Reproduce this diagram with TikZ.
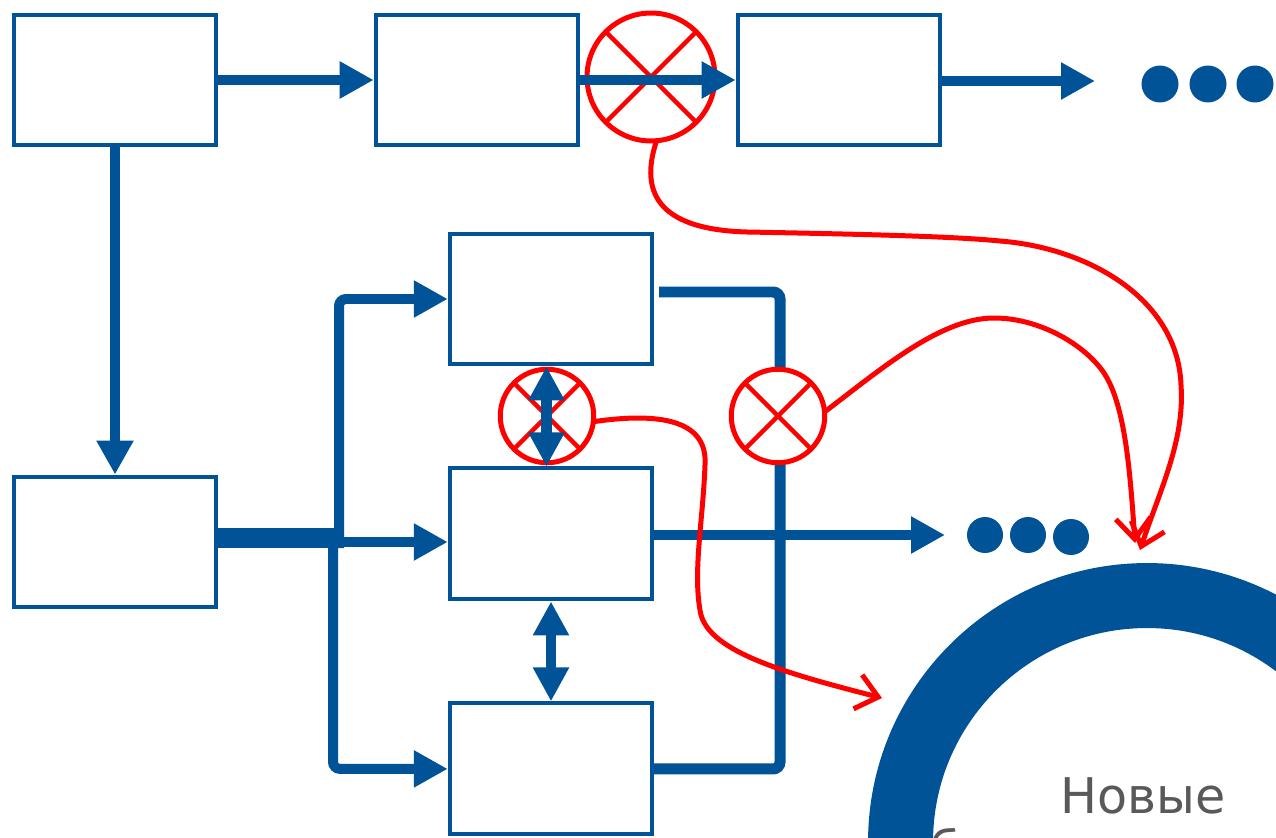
\documentclass[tikz,border=0pt]{standalone}
\usepackage{fontspec}
\newfontfamily\lblfont{DejaVu Sans}
\usetikzlibrary{arrows.meta}
\definecolor{flowblue}{RGB}{0,83,150}
\definecolor{labelgray}{RGB}{89,89,89}

\begin{document}
\begin{tikzpicture}[x=0.02cm,y=0.02cm,node distance=7.24cm,
    flow/.style={draw=flowblue,line width=0.2cm,-{Triangle[length=0.68cm,width=0.7cm]}},
    dflow/.style={draw=flowblue,line width=0.22cm,
      {Triangle[length=0.68cm,width=0.68cm]}-{Triangle[length=0.68cm,width=0.68cm]}},
    bus/.style={draw=flowblue,line width=0.22cm,rounded corners=4pt},
    link/.style={draw=red,line width=0.1cm,line cap=round,
      -{Straight Barb[length=0.42cm,width=0.7cm]}}]
    \tikzset{block/.style={draw=flowblue,line width=0.08cm,fill=white,
      minimum width=4.05cm,minimum height=2.62cm,inner sep=0pt},
      cross/.style={circle,draw=red,line width=0.1cm,fill=white,
      inner sep=0pt,outer sep=0pt},
      dot/.style={circle,fill=flowblue,inner sep=0pt,minimum size=0.74cm},
      lbl/.style={text=labelgray,font=\lblfont\fontsize{28}{34}\selectfont,inner sep=0pt}}
    \useasboundingbox (0,0) rectangle (1276,-838);

    % ring with the label
    \node[circle,draw=flowblue,line width=1.3cm,minimum size=9.86cm] (ring) at (1147,-842) {};
    \node[lbl,anchor=base] (t1) at (1143,-813) {Новые};
    \node[lbl,anchor=base west] (t2) at (930,-866) {бизнес-процессы};

    % blocks
    \node[block] (b1) at (115,-80) {};
    \node[block] (b2) [right of=b1] {};
    \node[block] (b3) [right of=b2] {};
    \node[block] (b4) at (115,-542) {};
    \node[block] (b5) at (551,-299) {};
    \node[block,node distance=4.7cm] (b6) [below of=b5] {};
    \node[block,node distance=4.7cm] (b7) [below of=b6] {};

    % right bus
    \coordinate (r1) at (659,-292);
    \coordinate (r2) at (780,-769);
    \draw[bus] (r1) -| (r2) -- (b7.east);

    % crossed circles
    \node[cross,minimum size=2.56cm] (c1) at (651,-77) {};
    \node[cross,minimum size=1.87cm] (c2) at (547,-416) {};
    \node[cross,minimum size=1.87cm] (c3) at (778,-416) {};
    \foreach \c in {c1,c2,c3}
      \draw[draw=red,line width=0.09cm] (\c.north west) -- (\c.south east)
        (\c.north east) -- (\c.south west);

    % top row
    \coordinate (e1) at (1095,-81);
    \draw[flow] (b1.east) -- (b2.west);
    \draw[flow] (b2.east) -- (b2.east -| b3.west);
    \draw[flow] (b3.east |- e1) -- (e1);
    \node[dot] (d1) at (1160,-84) {};
    \node[dot] (d2) at (1208,-84) {};
    \node[dot] (d3) at (1255,-84) {};
    \draw[flow] (b1.south) -- (b4.north);

    % left bus
    \coordinate (j0) at (339,-538);
    \coordinate (j1) at (339,-548);
    \coordinate (j2) at (333,-528);
    \coordinate (j3) at (333,-542);
    \draw[draw=flowblue,line width=0.4cm] (b4.east |- j0) -- (j0);
    \draw[flow,rounded corners=4pt] (j1) |- (b5.west);
    \draw[flow,rounded corners=4pt] (j2) |- (b7.west);
    \draw[flow] (j3) -- (j3 -| b6.west);

    % middle row
    \coordinate (e2) at (945,-535);
    \draw[flow] (b6.east |- e2) -- (e2);
    \node[dot,minimum size=0.72cm] (d4) at (985,-535) {};
    \node[dot,minimum size=0.72cm] (d5) at (1028,-535) {};
    \node[dot,minimum size=0.72cm] (d6) at (1071,-537) {};
    \draw[dflow] ([xshift=-0.09cm]b5.south) -- ([xshift=-0.09cm]b6.north);
    \draw[dflow,line width=0.2cm] (b6.south) -- (b7.north);

    % red links
    \draw[link] (c1.-85) .. controls (635,-205) and (675,-230) .. (747,-232)
      .. controls (850,-234) and (950,-236) .. (1000,-241)
      .. controls (1090,-248) and (1178,-300) .. (1181,-385)
      .. controls (1185,-440) and (1160,-490) .. (1140,-550);
    \draw[link] (c3.5) .. controls (880,-370) and (940,-318) .. (994,-318)
      .. controls (1040,-318) and (1085,-345) .. (1104,-373)
      .. controls (1125,-405) and (1130,-470) .. (1135,-543);
    \draw[link] (c2.-7) .. controls (660,-412) and (708,-420) .. (705,-465)
      .. controls (703,-520) and (693,-570) .. (700,-610)
      .. controls (705,-650) and (780,-672) .. (882,-698);
\end{tikzpicture}
\end{document}
